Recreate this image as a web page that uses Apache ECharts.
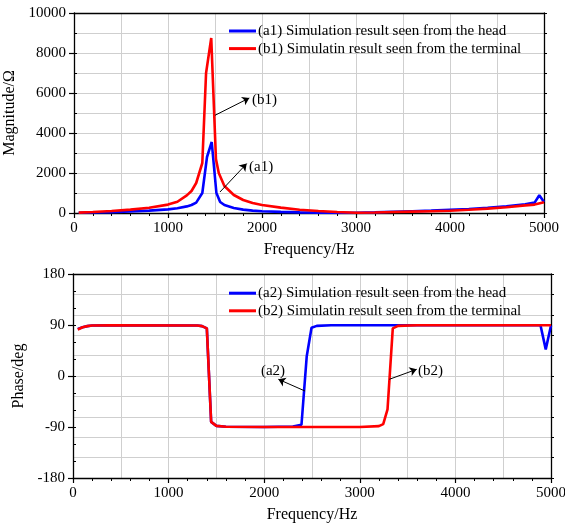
<!DOCTYPE html>
<html><head><meta charset="utf-8">
<script src="https://cdn.jsdelivr.net/npm/echarts@6/dist/echarts.min.js"></script>
<style>html,body{margin:0;padding:0;background:#fff}#c{width:565px;height:523px}</style>
</head><body><div id="c"></div>
<script>
// ---------- data ----------
const freqTicks = [0, 1000, 2000, 3000, 4000, 5000];
const magTicks = [0, 2000, 4000, 6000, 8000, 10000];
const phaseTicks = [-180, -90, 0, 90, 180];

const seriesNames = [
  '(a1) Simulation result seen from the head',
  '(b1) Simulatin result seen from the terminal',
  '(a2) Simulation result seen from the head',
  '(b2) Simulatin result seen from the terminal'
];

// magnitude, head (a1)
const a1Freq = [50,200,400,600,800,1000,1100,1200,1250,1300,1365,1415,1465,1515,1555,1600,1700,1800,1900,2000,2200,2400,2600,2800,3000,3200,3400,3600,3800,4000,4200,4400,4600,4800,4900,4950,5000];
const a1Mag  = [10,25,45,75,120,180,240,330,400,520,1000,2800,3550,1000,550,400,250,170,120,90,55,30,15,5,5,30,60,90,120,160,200,260,330,430,520,890,550];
// magnitude, terminal (b1)
const b1Freq = [50,200,400,600,800,1000,1100,1200,1250,1300,1365,1405,1460,1510,1540,1600,1700,1800,1900,2000,2200,2400,2600,2800,3000,3200,3400,3600,3800,4000,4200,4400,4600,4800,4900,5000];
const b1Mag  = [20,50,100,170,260,420,560,880,1100,1500,2500,7000,8750,2700,2000,1350,900,650,500,400,270,160,100,50,15,25,50,70,90,110,160,220,290,380,420,540];
// phase, head (a2)
const a2Freq  = [50,100,150,200,400,1300,1350,1400,1445,1500,1600,2000,2300,2390,2445,2495,2550,2700,4890,4945,5000];
const a2Phase = [83,86,88,89,89.5,89,88,84,-81,-88,-89.5,-90,-89,-86,35,85,88.5,89.5,89.5,47,89];
// phase, terminal (b2)
const b2Freq  = [50,100,150,200,400,1300,1350,1400,1445,1500,1600,2000,3000,3200,3245,3290,3345,3400,3600,5000];
const b2Phase = [82,86,88,89,89.5,89,88,84,-81,-88,-89.5,-90,-90,-88.5,-85,-59,84,88.5,89.5,89.5];

// annotations (data coordinates)
const annoLabels = ['(b1)', '(a1)', '(a2)', '(b2)'];
const annoGrid   = [0, 0, 1, 1];
const annoFrom   = [[1500, 4885], [1553, 1050], [2427, -26.5], [3309, -5.8]];
const annoTo     = [[1865, 5750], [1837, 2470], [2148, -5.8], [3595, 11.8]];
const annoText   = [[1894, 5635], [1862, 2285], [2218, 8.8], [3609, 8.8]];
const annoAlign  = ['left', 'left', 'right', 'left'];

// ---------- chart ----------
const FONT = '"Liberation Serif", "Times New Roman", serif';
const zip = (xs, ys) => xs.map((x, i) => [x, ys[i]]);
const step = a => a[1] - a[0];
const grid0 = {left: 74, top: 13, width: 470, height: 200, containLabel: false, outerBoundsMode: 'none'};
const grid1 = {left: 73, top: 274, width: 478, height: 204, containLabel: false, outerBoundsMode: 'none'};
const GRIDC = '#cfcfcf';
const axisLine = {show: true, onZero: false, lineStyle: {color: '#000', width: 1.3}};
const lbl = {color: '#000', fontFamily: FONT, fontSize: 15, formatter: v => String(v)};

function mainX(gi) {
  return {type: 'value', gridIndex: gi, position: 'bottom', min: freqTicks[0], max: freqTicks[freqTicks.length-1],
    interval: step(freqTicks), axisLine,
    axisTick: {show: true, inside: false, length: 5, lineStyle: {color: '#000', width: 1.2}},
    minorTick: {show: true, splitNumber: 5, length: 3, lineStyle: {color: '#000', width: 1}},
    axisLabel: Object.assign({margin: 8}, lbl), splitLine: {show: false},
    name: 'Frequency/Hz', nameLocation: 'middle', nameGap: 29,
    nameTextStyle: {color: '#000', fontFamily: FONT, fontSize: 16}};
}
function topX(gi) {
  return {type: 'value', gridIndex: gi, position: 'top', min: freqTicks[0], max: freqTicks[freqTicks.length-1],
    interval: step(freqTicks) / 2, axisLine, axisTick: {show: false}, axisLabel: {show: false},
    splitLine: {show: true, lineStyle: {color: GRIDC, width: 1}}};
}
function yAxes(gi, ticks, name, nameGap, gridStep, minorStep) {
  const mn = ticks[0], mx = ticks[ticks.length-1];
  return [
    {type: 'value', gridIndex: gi, position: 'left', min: mn, max: mx, interval: step(ticks), axisLine,
      axisTick: {show: true, inside: false, length: 5, lineStyle: {color: '#000', width: 1.2}},
      axisLabel: Object.assign({margin: 8}, lbl), splitLine: {show: false},
      name, nameLocation: 'middle', nameGap,
      nameTextStyle: {color: '#000', fontFamily: FONT, fontSize: 16}},
    {type: 'value', gridIndex: gi, position: 'right', min: mn, max: mx, interval: gridStep, axisLine,
      axisTick: {show: true, inside: false, length: 3, lineStyle: {color: '#000', width: 1}},
      axisLabel: {show: false}, splitLine: {show: true, lineStyle: {color: GRIDC, width: 1}}},
    {type: 'value', gridIndex: gi, position: 'left', offset: 0, min: mn, max: mx, interval: minorStep,
      axisLine: {show: false, onZero: false},
      axisTick: {show: true, inside: true, length: 3, lineStyle: {color: '#000', width: 1}},
      axisLabel: {show: false}, splitLine: {show: false}}
  ];
}

function arrows(idxs) {
  return {silent: true, symbol: ['none', 'arrow'], symbolSize: 7, animation: false,
    label: {show: false}, emphasis: {disabled: true},
    lineStyle: {color: '#000', width: 1, type: 'solid'},
    data: idxs.map(i => [{coord: annoFrom[i]}, {coord: annoTo[i]}])};
}

function line(name, data, color, xi, yi, extra) {
  return Object.assign({type: 'line', name, data, xAxisIndex: xi, yAxisIndex: yi, symbol: 'none',
    showSymbol: false, smooth: false, lineStyle: {color, width: 2.6}, itemStyle: {color},
    emphasis: {disabled: true}}, extra || {});
}

function legend(names, top) {
  return {orient: 'vertical', left: 229, top, padding: 0, itemGap: 2.6, itemWidth: 27, itemHeight: 3,
    icon: 'rect', selectedMode: false, data: names,
    textStyle: {color: '#000', fontFamily: FONT, fontSize: 15, lineHeight: 15, padding: [0, 0, 0, -3]}};
}

const chart = echarts.init(document.getElementById('c'), null, {renderer: 'canvas'});
const option = {
  animation: false,
  backgroundColor: '#fff',
  grid: [grid0, grid1],
  legend: [legend(seriesNames.slice(0, 2), 23.5), legend(seriesNames.slice(2, 4), 285.7)],
  xAxis: [mainX(0), topX(0), mainX(1), topX(1)],
  yAxis: [].concat(
    yAxes(0, magTicks, 'Magnitude/Ω', 53, 1000, 1000),
    yAxes(1, phaseTicks, 'Phase/deg', 42, 36, 30)
  ),
  series: [
    line(seriesNames[0], zip(a1Freq, a1Mag), '#0000ff', 0, 0, {markLine: arrows([0, 1])}),
    line(seriesNames[1], zip(b1Freq, b1Mag), '#ff0000', 0, 0),
    line(seriesNames[2], zip(a2Freq, a2Phase), '#0000ff', 2, 3, {markLine: arrows([2, 3])}),
    line(seriesNames[3], zip(b2Freq, b2Phase), '#ff0000', 2, 3)
  ]
};
chart.setOption(option);

const texts = annoLabels.map((t, i) => {
  const p = chart.convertToPixel({gridIndex: annoGrid[i]}, annoText[i]);
  return {type: 'text', x: p[0], y: p[1], z: 100,
    style: {text: t, fill: '#000', font: '15px ' + FONT, textAlign: annoAlign[i], textVerticalAlign: 'middle'}};
});
chart.setOption({graphic: texts});
</script>
</body></html>
